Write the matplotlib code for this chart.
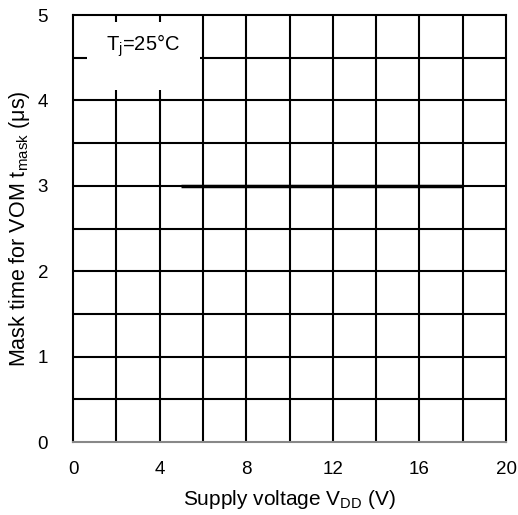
import numpy as np
import matplotlib.pyplot as plt
from matplotlib.patches import Rectangle

plt.rcParams['font.family'] = ['Liberation Sans', 'DejaVu Sans']
plt.rcParams['mathtext.fontset'] = 'custom'
plt.rcParams['mathtext.rm'] = 'Liberation Sans'
plt.rcParams['mathtext.it'] = 'Liberation Sans'

# ---- data ----
vdd   = [5.0, 18.0]
tmask = [3.0, 3.0]
xticks = [0, 4, 8, 12, 16, 20]
yticks = [0, 1, 2, 3, 4, 5]

fig = plt.figure(figsize=(5.18, 5.15), dpi=100)
ax = fig.add_axes([0.141, 0.1417, 0.836, 0.829])

# grid
for x in np.arange(2, 20, 2):
    ax.axvline(x, color='black', lw=1.5, zorder=1)
for y in np.arange(0.5, 5, 0.5):
    ax.axhline(y, color='black', lw=1.5, zorder=1)

ax.plot(vdd, tmask, color='black', lw=2.5, solid_capstyle='butt', zorder=3)

# label box
ax.add_patch(Rectangle((0.65, 4.12), 5.22, 0.8, facecolor='white',
                       edgecolor='none', zorder=2))
ax.text(1.5, 4.64, r'$\mathregular{T_j}$=25°C', fontsize=14.5,
        va='center', ha='left', zorder=4)

ax.set_xlim(0, 20)
ax.set_ylim(0, 5)
ax.set_xticks(xticks)
ax.set_yticks(yticks)
ax.tick_params(length=0, labelsize=13.5)
ax.tick_params(axis='x', pad=14)
ax.tick_params(axis='y', pad=18)
for s in ['left', 'top', 'right']:
    ax.spines[s].set_linewidth(1.5)
ax.spines['bottom'].set_color('#888888')
ax.spines['bottom'].set_linewidth(1.5)

ax.set_xlabel(r'Supply voltage V$\mathregular{_{DD}}$ (V)', fontsize=15, labelpad=7)
ax.set_ylabel(r'Mask time for VOM t$\mathregular{_{mask}}$ (μs)', fontsize=15.5, labelpad=4)

fig.savefig('out.png', dpi=100)
